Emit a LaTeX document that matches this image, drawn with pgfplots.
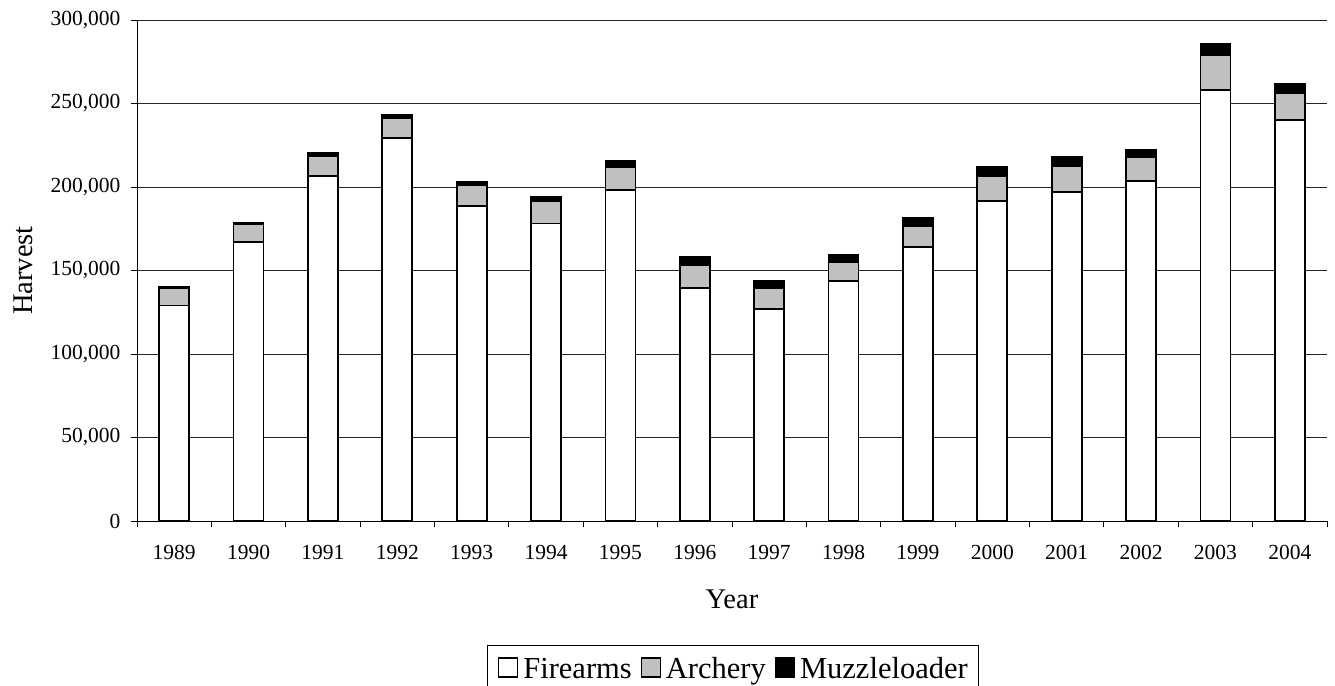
\documentclass[border=0pt]{standalone}
\usepackage{fontspec}
\setmainfont{Liberation Serif}
\usepackage{pgfplots}
\usepackage{pgfplotstable}
\pgfplotsset{compat=1.18}
\definecolor{archgray}{RGB}{192,192,192}
\pgfplotstableread{
i year f a m
0 1989 129000 10300 800
1 1990 167000 10500 1100
2 1991 206600 12100 1800
3 1992 229500 12000 1800
4 1993 188400 13000 1800
5 1994 178200 13600 2400
6 1995 198200 14000 3500
7 1996 139300 14000 4600
8 1997 126800 12900 4000
9 1998 143500 11800 4000
10 1999 164300 12500 4400
11 2000 191600 15200 5400
12 2001 197200 15600 5400
13 2002 203800 14400 4000
14 2003 258100 20900 6400
15 2004 240100 16400 5200
}\datatable
\begin{document}
\begin{tikzpicture}
\begin{axis}[
  width=1190bp, height=501bp, scale only axis,
  ybar stacked, bar width=30bp,
  xmin=-0.5, xmax=15.5, ymin=0, ymax=300000,
  axis lines=left, axis line style={-, black, line width=0.8bp},
  xtick={-0.5,0.5,...,15.5}, x tick label as interval,
  xticklabels={1989,1990,1991,1992,1993,1994,1995,1996,1997,1998,1999,2000,2001,2002,2003,2004},
  ytick={0,50000,...,300000},
  tick align=outside, major tick length=6bp, tick style={black, line width=0.8bp},
  ymajorgrids, grid style={black!85, line width=0.8bp},
  scaled y ticks=false,
  /pgf/number format/assume math mode=true,
  /pgf/number format/fixed,
  /pgf/number format/1000 sep={,},
  tick label style={font=\fontsize{21.5bp}{25bp}\selectfont},
  yticklabel style={xshift=-7bp},
  xticklabel style={yshift=-15bp},
  xlabel={Year}, ylabel={Harvest},
  label style={font=\fontsize{28.5bp}{33bp}\selectfont},
  xlabel style={at={(axis description cs:0.5,-0.1737)}, anchor=base},
  ylabel style={at={(axis description cs:-0.0874,0.5)}, anchor=base},
  legend columns=3,
  legend style={at={(axis description cs:0.5008,-0.2475)}, anchor=north,
    draw=black, line width=0.8bp, inner xsep=11bp, inner ysep=12bp,
    font=\fontsize{30.5bp}{35bp}\selectfont,
    nodes={inner sep=0pt},
    /tikz/every odd column/.append style={column sep=5bp},
    /tikz/every even column/.append style={column sep=9bp}},
  legend image code/.code={\draw[#1, line width=1.2bp] (0bp,-8bp) rectangle (19bp,11bp);},
]
\addplot[fill=white, draw=black, line width=1.8bp] table[x=i,y=f]{\datatable};
\addplot[fill=archgray, draw=black, line width=1.8bp] table[x=i,y=a]{\datatable};
\addplot[fill=black, draw=black, line width=1.8bp] table[x=i,y=m]{\datatable};
\legend{Firearms,Archery,Muzzleloader}
\coordinate (bl) at (rel axis cs:0,0);
\coordinate (tr) at (rel axis cs:1,1);
\end{axis}
\pgfresetboundingbox
\path ([shift={(-137bp,-165bp)}]bl) rectangle ([shift={(8bp,20bp)}]tr);
\end{tikzpicture}
\end{document}
